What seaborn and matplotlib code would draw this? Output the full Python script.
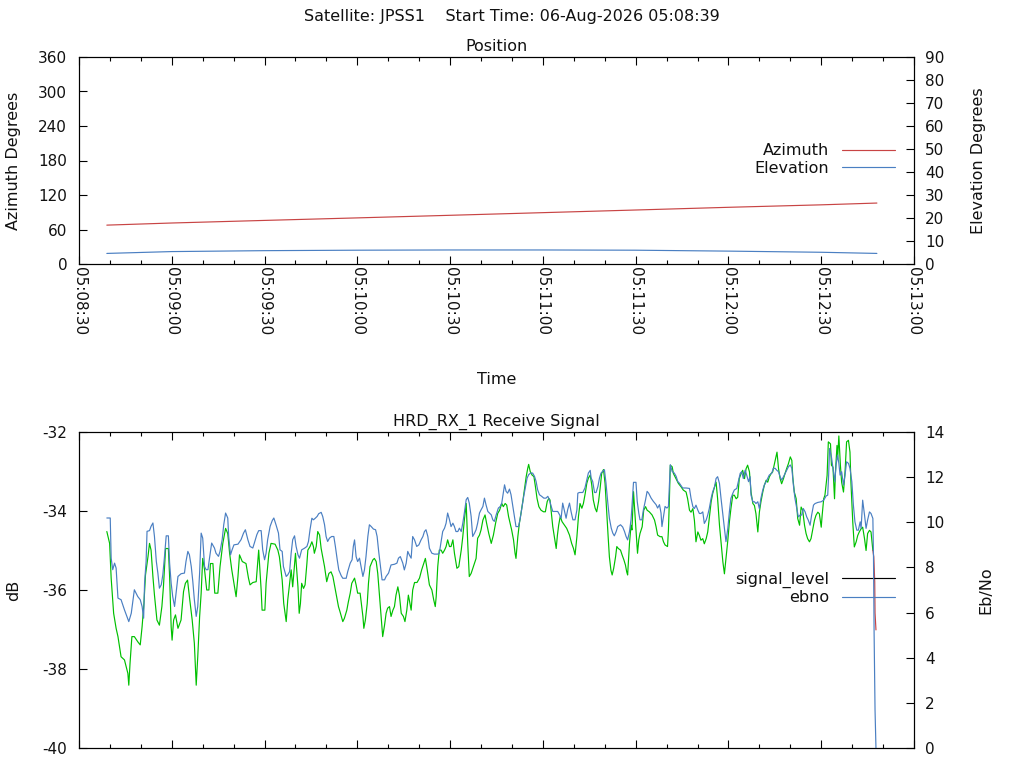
import matplotlib
matplotlib.use("Agg")
import matplotlib.pyplot as plt
import seaborn as sns
from matplotlib.lines import Line2D
from matplotlib.ticker import MultipleLocator, FixedLocator

# ---------------- data ----------------
# time axis: seconds after 05:08:30
xtick_pos = [0, 30, 60, 90, 120, 150, 180, 210, 240, 270]
xtick_labels = ["05:08:30", "05:09:00", "05:09:30", "05:10:00", "05:10:30",
                "05:11:00", "05:11:30", "05:12:00", "05:12:30", "05:13:00"]

pos_t = [9, 30, 60, 90, 120, 150, 180, 210, 240, 258]
azimuth = [67.6, 71.3, 75.8, 80.2, 84.7, 89.3, 93.9, 98.6, 102.9, 106.0]
elevation = [4.6, 5.4, 5.8, 6.0, 6.1, 6.1, 6.0, 5.6, 5.1, 4.6]

sig_t = [9.0, 9.9, 10.4, 11.2, 12.0, 12.6, 13.6, 14.7, 15.8, 16.1, 16.5, 17.1, 17.9, 19.0, 19.8,
         20.4, 21.0, 21.5, 22.3, 22.8, 23.3, 23.9, 24.4, 25.2, 26.0, 26.8, 27.3, 28.0, 28.9, 29.3,
         29.8, 30.1, 30.6, 31.2, 32.0, 33.0, 33.8, 34.4, 35.1, 35.7, 36.6, 37.3, 37.9, 38.4, 39.0,
         39.5, 40.0, 40.6, 41.3, 42.0, 42.5, 43.3, 43.9, 44.9, 45.6, 46.5, 47.4, 48.1, 48.7, 49.4,
         50.3, 50.8, 51.4, 51.9, 52.8, 54.0, 54.8, 55.3, 56.2, 57.3, 58.1, 58.9, 59.2, 60.1, 60.5,
         61.4, 62.1, 63.4, 64.3, 64.8, 65.7, 66.2, 67.0, 67.5, 68.6, 69.1, 70.0, 70.8, 71.2, 71.6,
         72.0, 72.6, 73.1, 73.7, 74.0, 74.7, 75.3, 75.8, 76.1, 76.7, 77.2, 77.8, 78.3, 78.8, 79.4,
         80.1, 80.8, 81.5, 82.1, 82.8, 83.4, 83.9, 84.4, 85.3, 85.8, 86.6, 87.1, 87.7, 88.2, 89.1,
         89.6, 90.1, 90.9, 91.4, 91.8, 92.1, 92.6, 93.2, 93.6, 94.1, 95.0, 95.5, 96.1, 96.6, 97.2,
         97.7, 98.2, 98.8, 99.3, 99.8, 100.4, 100.9, 101.5, 102.0, 102.5, 103.1, 103.6, 104.2, 104.9, 105.4,
         106.0, 106.5, 106.8, 107.4, 107.9, 108.5, 109.3, 110.1, 110.8, 111.5, 112.0, 112.6, 113.3, 114.1, 114.7,
         115.2, 115.5, 116.0, 116.5, 117.1, 117.6, 118.2, 118.7, 119.2, 119.8, 120.3, 120.9, 121.4, 122.2, 122.8,
         123.6, 124.1, 124.6, 125.2, 125.7, 126.2, 126.8, 127.5, 128.4, 128.9, 129.5, 130.0, 130.6, 131.3, 131.8,
         132.5, 133.3, 134.0, 134.7, 135.4, 136.0, 136.7, 137.2, 137.8, 138.3, 138.9, 139.4, 139.9, 140.5, 141.0,
         141.3, 141.9, 142.4, 143.0, 143.5, 144.0, 144.6, 145.1, 145.4, 145.9, 146.5, 147.1, 147.6, 148.1, 148.7,
         149.4, 150.2, 150.8, 151.4, 151.9, 152.3, 152.7, 153.2, 153.7, 154.3, 154.7, 155.1, 155.6, 156.2, 157.0,
         157.7, 158.6, 159.3, 159.9, 160.4, 161.0, 161.5, 162.0, 162.6, 163.1, 163.7, 164.2, 164.7, 165.3, 165.8,
         166.3, 166.9, 167.4, 168.0, 168.5, 169.0, 169.6, 170.1, 170.7, 171.1, 171.5, 172.0, 172.4, 172.9, 173.5,
         173.9, 174.4, 175.1, 175.6, 176.2, 176.7, 177.1, 177.4, 178.0, 178.5, 178.8, 179.3, 179.6, 180.1, 180.6,
         181.0, 181.4, 182.1, 182.6, 183.2, 183.7, 184.4, 185.3, 186.1, 186.6, 187.1, 187.9, 188.5, 189.0, 189.5,
         190.3, 190.6, 190.9, 191.2, 191.8, 192.2, 192.7, 193.3, 193.8, 194.7, 195.4, 196.3, 196.8, 197.4, 197.9,
         198.5, 199.0, 199.5, 200.1, 200.6, 201.1, 201.7, 202.2, 202.8, 203.3, 203.8, 204.4, 204.9, 205.5, 206.0,
         206.5, 207.1, 207.6, 208.2, 208.7, 209.2, 209.8, 210.3, 210.8, 211.4, 211.9, 212.5, 213.0, 213.5, 214.1,
         214.6, 215.2, 215.7, 216.2, 216.8, 217.3, 217.9, 218.4, 218.9, 219.5, 220.0, 220.5, 221.1, 221.6, 222.2,
         222.7, 223.2, 223.8, 224.3, 224.9, 225.4, 225.7, 226.2, 226.7, 227.2, 227.8, 228.3, 228.8, 229.4, 230.0,
         230.5, 230.8, 231.3, 231.9, 232.4, 233.0, 233.5, 234.0, 234.6, 235.1, 235.6, 236.2, 236.7, 237.3, 237.8,
         238.3, 238.9, 239.4, 240.0, 240.3, 240.8, 241.2, 241.9, 242.3, 243.0, 243.3, 243.8, 244.3, 244.6, 245.1,
         245.3, 245.7, 246.2, 246.6, 247.2, 247.7, 248.2, 248.8, 249.3, 249.6, 250.2, 250.7, 251.3, 251.8, 252.3,
         252.9, 253.4, 254.0, 254.5, 255.0, 255.6, 256.1, 256.7]
sig_db = [-34.52, -34.82, -35.70, -36.59, -36.97, -37.18, -37.69, -37.77, -38.11, -38.41, -37.86, -37.18, -37.18, -37.31, -37.39,
          -36.93, -36.34, -35.62, -35.16, -34.82, -34.99, -35.66, -36.13, -36.76, -36.89, -36.42, -35.92, -34.95, -34.95, -35.66,
          -36.93, -37.27, -36.76, -36.63, -36.97, -36.76, -36.04, -35.83, -35.75, -36.17, -36.76, -37.35, -38.41, -37.69, -36.68,
          -36.08, -35.20, -35.49, -36.00, -36.00, -35.33, -35.33, -36.08, -36.08, -35.41, -34.82, -34.44, -34.57, -35.07, -35.49,
          -35.92, -36.17, -35.66, -35.11, -35.28, -35.33, -35.70, -35.87, -35.81, -35.79, -34.99, -36.00, -36.51, -36.51, -35.83,
          -35.07, -34.82, -34.84, -34.99, -35.16, -35.75, -36.34, -36.80, -36.25, -35.49, -35.92, -35.07, -35.92, -36.59, -36.34,
          -35.83, -35.96, -35.87, -35.32, -34.99, -34.90, -34.78, -34.90, -35.07, -34.90, -34.52, -34.61, -34.95, -35.16, -35.41,
          -35.79, -35.58, -35.54, -35.66, -35.96, -36.21, -36.42, -36.55, -36.80, -36.72, -36.51, -36.30, -36.08, -35.83, -35.70,
          -35.87, -36.08, -36.08, -36.42, -36.67, -36.97, -36.76, -36.34, -35.83, -35.41, -35.24, -35.20, -35.28, -35.58, -36.17,
          -36.67, -37.18, -36.89, -36.59, -36.46, -36.42, -36.67, -36.51, -36.42, -36.13, -35.92, -36.13, -36.59, -36.67, -36.80,
          -36.51, -36.13, -36.25, -36.51, -36.00, -35.81, -35.81, -35.70, -35.49, -35.32, -35.20, -35.49, -35.87, -36.00, -36.25,
          -36.42, -36.17, -35.41, -34.99, -34.99, -35.07, -34.99, -34.90, -34.73, -34.90, -34.90, -34.73, -35.07, -35.45, -35.41,
          -34.99, -34.65, -34.23, -33.81, -34.82, -35.66, -35.58, -35.41, -35.20, -34.69, -34.61, -34.48, -34.23, -34.10, -34.31,
          -34.57, -34.82, -34.61, -34.31, -34.06, -33.98, -33.81, -33.89, -33.81, -33.85, -34.14, -34.31, -34.48, -34.73, -35.07,
          -35.20, -34.65, -34.31, -34.02, -33.76, -33.47, -33.13, -32.92, -32.82, -33.00, -33.09, -33.13, -33.39, -33.68, -33.89,
          -33.98, -34.02, -34.02, -33.76, -33.68, -33.72, -34.02, -34.40, -34.65, -34.95, -34.61, -34.36, -34.14, -34.27, -34.36,
          -34.44, -34.61, -34.82, -34.95, -35.11, -34.65, -34.14, -33.81, -33.93, -33.81, -33.55, -33.30, -33.17, -33.09, -33.34,
          -33.72, -33.93, -34.02, -33.76, -33.43, -33.05, -32.95, -33.30, -34.14, -34.65, -35.16, -35.50, -35.62, -35.45, -35.16,
          -34.90, -34.95, -34.99, -35.11, -35.24, -35.37, -35.54, -35.62, -34.82, -34.36, -34.48, -33.51, -33.89, -34.48, -35.07,
          -34.73, -34.57, -34.40, -33.98, -33.89, -33.98, -34.02, -34.10, -34.23, -34.40, -34.61, -34.65, -34.65, -34.78, -34.86,
          -34.90, -34.48, -33.72, -32.84, -32.88, -33.05, -33.13, -33.22, -33.30, -33.39, -33.47, -33.52, -33.69, -33.98, -34.03,
          -33.94, -34.24, -34.78, -34.53, -34.62, -34.74, -34.70, -34.83, -34.70, -34.53, -34.19, -33.77, -33.56, -33.39, -33.27,
          -33.69, -34.36, -34.78, -35.29, -35.59, -35.21, -34.74, -34.28, -33.94, -33.60, -33.60, -33.69, -33.65, -33.18, -33.05,
          -32.97, -33.18, -32.93, -32.84, -33.01, -33.52, -33.81, -33.86, -34.07, -34.53, -34.03, -33.77, -33.52, -33.35, -33.22,
          -33.27, -33.14, -33.05, -33.01, -32.80, -32.63, -32.51, -32.93, -33.18, -33.31, -33.18, -33.05, -32.93, -32.80, -32.63,
          -32.72, -33.14, -33.52, -33.69, -34.19, -34.36, -33.90, -33.98, -34.36, -34.57, -34.70, -34.78, -34.70, -34.45, -34.24,
          -34.11, -34.03, -34.07, -34.41, -34.11, -33.69, -33.60, -33.10, -32.25, -32.30, -32.84, -32.89, -33.69, -33.01, -32.34,
          -32.68, -32.10, -32.84, -33.27, -33.52, -33.01, -32.25, -32.21, -32.51, -33.27, -34.28, -34.91, -34.78, -34.62, -34.53,
          -34.45, -34.41, -34.70, -35.00, -34.57, -34.49, -34.53, -35.00]
# last samples of signal_level (drawn in red in the original)
sig_tail_t = [256.7, 257.0, 257.3, 257.4, 257.7]
sig_tail_db = [-35.00, -35.16, -35.79, -36.58, -37.01]

ebno_t = [9.0, 10.1, 10.4, 10.9, 11.5, 12.0, 12.6, 13.6, 14.7, 15.5, 16.1, 16.9, 17.9, 19.0, 19.8,
          20.4, 20.9, 21.2, 21.7, 22.0, 22.8, 23.3, 23.9, 24.4, 25.0, 25.5, 26.0, 26.6, 27.1, 27.6,
          28.2, 28.9, 29.3, 29.8, 30.3, 30.9, 31.4, 32.0, 33.0, 34.1, 34.6, 35.2, 35.7, 36.3, 36.8,
          37.3, 37.9, 38.4, 39.0, 39.5, 40.0, 40.6, 41.1, 41.7, 42.2, 42.9, 43.8, 44.3, 45.1, 45.6,
          46.3, 46.8, 47.4, 48.1, 48.4, 49.0, 49.5, 50.1, 51.4, 52.4, 53.2, 53.8, 54.6, 55.3, 56.2,
          56.7, 57.5, 58.1, 58.9, 59.4, 60.0, 60.5, 61.0, 61.8, 62.5, 63.0, 63.7, 64.5, 65.0, 65.7,
          66.1, 67.0, 67.5, 68.1, 68.6, 69.1, 69.7, 70.2, 70.8, 71.3, 72.0, 72.9, 73.7, 74.2, 74.7,
          75.3, 75.8, 76.4, 77.0, 77.5, 78.3, 78.8, 79.4, 79.9, 80.4, 81.0, 81.7, 82.4, 82.9, 83.5,
          84.0, 84.8, 85.3, 86.4, 86.9, 87.7, 88.3, 88.7, 89.1, 89.6, 90.1, 90.7, 91.2, 91.8, 92.3,
          92.8, 93.4, 93.9, 94.5, 95.2, 95.9, 96.4, 96.9, 97.5, 98.0, 98.8, 99.3, 100.1, 100.9, 102.0,
          102.8, 103.3, 103.9, 104.7, 105.2, 105.8, 106.3, 106.8, 107.4, 107.9, 108.5, 109.2, 109.9, 110.6, 111.2,
          111.7, 112.2, 112.8, 113.3, 114.1, 114.9, 116.0, 116.5, 117.1, 117.6, 118.2, 118.7, 119.2, 119.8, 120.3,
          120.9, 121.4, 121.9, 122.5, 123.0, 123.6, 124.1, 124.6, 125.2, 125.7, 126.2, 126.8, 127.3, 127.9, 128.4,
          128.9, 129.5, 130.0, 130.6, 131.1, 131.6, 132.2, 132.7, 133.3, 133.8, 134.3, 134.9, 135.6, 136.2, 136.7,
          137.2, 137.6, 138.1, 138.6, 139.2, 139.7, 140.3, 140.8, 141.3, 142.1, 142.6, 143.3, 143.8, 144.4, 144.9,
          145.4, 146.0, 146.7, 147.3, 147.8, 148.3, 148.9, 149.6, 150.3, 151.0, 151.6, 152.1, 152.7, 153.2, 154.1,
          154.8, 155.4, 155.9, 156.4, 157.0, 157.5, 158.0, 158.6, 159.1, 159.7, 160.4, 161.0, 161.3, 161.8, 162.9,
          163.6, 164.2, 164.7, 165.3, 165.6, 166.1, 166.7, 167.2, 167.8, 168.3, 168.8, 169.4, 169.9, 170.4, 171.0,
          171.5, 172.1, 172.6, 173.1, 173.7, 174.2, 175.1, 175.8, 176.4, 176.9, 177.4, 178.0, 178.5, 178.8, 179.3,
          180.1, 180.5, 181.0, 181.4, 182.0, 182.5, 183.2, 183.7, 184.2, 185.0, 185.7, 186.6, 187.1, 187.7, 188.2,
          188.5, 189.0, 189.5, 190.1, 190.6, 190.9, 191.2, 191.8, 192.5, 193.1, 193.6, 194.1, 195.2, 196.3, 197.4,
          197.9, 198.5, 199.0, 199.5, 200.1, 200.6, 201.1, 201.7, 202.2, 202.8, 203.3, 203.8, 204.4, 204.9, 205.5,
          206.0, 206.5, 207.1, 207.6, 208.2, 208.7, 209.2, 209.8, 210.3, 210.8, 211.4, 211.9, 212.7, 213.2, 213.8,
          214.3, 214.8, 215.4, 215.9, 216.5, 217.0, 217.3, 217.9, 218.4, 218.9, 219.5, 220.0, 220.5, 221.1, 221.6,
          222.2, 222.7, 223.2, 224.0, 224.5, 225.1, 225.6, 226.2, 226.7, 227.2, 227.8, 228.6, 229.4, 230.0, 230.5,
          231.0, 231.5, 232.1, 232.6, 233.2, 233.7, 234.2, 234.8, 235.3, 235.8, 236.4, 236.9, 237.5, 238.0, 238.9,
          240.0, 240.8, 241.6, 242.1, 242.4, 242.7, 243.3, 243.8, 244.4, 244.8, 245.3, 245.7, 246.1, 246.6, 247.2,
          247.7, 248.2, 248.8, 249.3, 249.9, 250.4, 250.9, 251.5, 252.0, 252.6, 252.9, 253.4, 254.0, 254.5, 255.0,
          255.6, 256.1, 256.7, 256.9, 257.1, 257.4, 257.7]
ebno = [10.19, 10.19, 8.41, 7.90, 8.19, 7.97, 6.64, 6.57, 6.12, 5.83, 5.60, 5.97, 7.01, 6.71, 6.57,
        6.27, 5.75, 7.30, 8.27, 9.60, 9.63, 9.82, 9.97, 9.37, 8.27, 7.75, 7.08, 7.23, 7.67, 8.41,
        9.40, 9.40, 8.19, 7.30, 6.71, 6.27, 6.86, 7.60, 7.72, 7.75, 8.27, 8.71, 8.56, 8.04, 7.38,
        6.57, 5.83, 6.27, 7.75, 9.52, 9.30, 8.04, 7.90, 7.90, 8.41, 9.08, 8.86, 8.63, 8.49, 8.71,
        9.23, 9.89, 10.41, 10.19, 9.37, 8.56, 8.78, 9.00, 9.03, 9.23, 9.52, 9.67, 9.23, 8.93, 8.86,
        9.08, 9.45, 9.63, 9.63, 8.78, 8.34, 8.63, 9.23, 9.82, 10.08, 10.19, 9.89, 9.52, 8.78, 8.71,
        8.04, 7.60, 7.67, 7.82, 8.63, 9.23, 9.40, 8.93, 8.56, 8.41, 8.78, 8.85, 8.93, 9.15, 9.67,
        10.18, 10.11, 10.18, 10.26, 10.38, 10.44, 10.26, 9.89, 9.37, 9.15, 9.30, 9.37, 9.37, 8.93, 8.34,
        7.89, 7.63, 7.52, 7.52, 7.82, 8.19, 8.34, 8.93, 9.22, 8.48, 8.26, 8.41, 8.04, 7.60, 7.89,
        8.48, 9.37, 9.89, 9.81, 9.70, 9.67, 9.37, 8.71, 8.04, 7.45, 7.45, 7.60, 7.75, 8.11, 8.14,
        8.19, 8.41, 8.48, 8.19, 7.89, 8.19, 8.71, 8.56, 8.41, 9.37, 9.22, 8.93, 9.00, 9.22, 9.37,
        9.59, 9.67, 9.37, 8.85, 8.63, 8.59, 8.59, 8.63, 9.15, 9.59, 9.74, 9.96, 10.41, 10.11, 9.81,
        9.96, 9.81, 9.59, 9.59, 9.74, 9.59, 9.96, 10.41, 11.00, 11.10, 10.85, 10.26, 9.37, 9.52, 9.67,
        9.96, 10.41, 10.55, 10.70, 11.07, 10.78, 10.48, 10.41, 10.33, 10.11, 10.04, 10.33, 10.63, 10.70, 10.85,
        11.29, 11.66, 11.37, 11.29, 11.47, 11.22, 10.70, 10.26, 9.81, 9.81, 10.11, 10.70, 11.15, 11.59, 11.96,
        12.11, 12.18, 12.18, 12.03, 11.81, 11.44, 11.22, 11.15, 11.07, 11.07, 11.15, 11.00, 10.70, 10.48, 10.48,
        10.48, 10.33, 10.18, 10.85, 10.48, 10.18, 10.55, 10.85, 10.48, 10.11, 10.11, 10.55, 11.29, 11.32, 11.32,
        11.52, 11.88, 12.18, 12.30, 11.96, 11.81, 11.32, 11.32, 11.59, 11.96, 12.18, 12.26, 12.33, 11.74, 10.85,
        10.18, 9.74, 9.52, 9.40, 9.59, 9.81, 9.89, 9.79, 9.59, 9.37, 9.22, 9.59, 10.11, 10.70, 11.77,
        11.77, 10.93, 10.41, 10.11, 10.11, 10.55, 11.00, 11.37, 11.29, 11.07, 10.93, 10.78, 10.63, 10.78, 10.41,
        9.81, 10.26, 10.70, 10.63, 10.70, 11.59, 12.55, 12.25, 12.18, 12.03, 11.81, 11.74, 11.52, 11.52, 11.50,
        11.06, 10.69, 10.61, 10.76, 10.54, 10.39, 10.39, 10.46, 9.95, 10.10, 10.32, 10.61, 11.06, 11.35, 11.57,
        11.94, 12.02, 11.72, 11.06, 10.32, 9.73, 9.14, 9.73, 10.46, 11.06, 11.28, 11.43, 11.50, 11.80, 12.17,
        12.24, 11.94, 12.31, 12.09, 11.80, 12.02, 11.20, 10.91, 10.91, 10.83, 10.91, 10.61, 11.06, 11.43, 11.65,
        11.80, 11.94, 12.09, 12.17, 12.39, 12.39, 12.31, 12.24, 12.02, 11.87, 12.02, 12.24, 12.46, 12.54, 12.39,
        11.65, 11.06, 10.61, 10.24, 10.32, 10.32, 10.61, 10.46, 10.24, 10.10, 9.87, 10.32, 10.76, 10.83, 10.88,
        10.91, 10.98, 11.17, 11.20, 12.09, 13.27, 12.90, 12.39, 11.80, 12.54, 12.98, 12.61, 12.09, 12.24, 11.65,
        12.09, 12.68, 12.61, 12.39, 11.80, 10.76, 10.02, 9.65, 9.65, 10.02, 9.73, 10.98, 10.32, 9.73, 10.10,
        10.46, 10.39, 10.17, 8.48, 5.09, 1.69, 0.00]

# ---------------- style ----------------
RED = "#c84444"
BLUE = "#4a7fc2"
GREEN = "#00c000"

sns.set_theme(style="ticks")
plt.rcParams['font.family'] = ['DejaVu Sans']
plt.rcParams['font.size'] = 11
plt.rcParams['axes.unicode_minus'] = False
plt.rcParams['axes.linewidth'] = 0.8
plt.rcParams['axes.edgecolor'] = 'black'
plt.rcParams['text.color'] = '#111111'
plt.rcParams['axes.labelcolor'] = '#111111'
plt.rcParams['xtick.color'] = 'black'
plt.rcParams['ytick.color'] = 'black'
plt.rcParams['xtick.labelcolor'] = '#111111'
plt.rcParams['ytick.labelcolor'] = '#111111'

FS = 11      # tick numbers
FT = 11.5    # titles, labels, legend
W, H = 1024, 768
fig = plt.figure(figsize=(W / 100, H / 100), dpi=100)
fig.patch.set_facecolor('white')

L, R = 79, 914
ax1 = fig.add_axes([L / W, 1 - 264 / H, (R - L) / W, (264 - 57) / H])
ax1b = ax1.twinx()
ax2 = fig.add_axes([L / W, 1 - 748 / H, (R - L) / W, (748 - 432) / H])
ax2b = ax2.twinx()

LW = 0.85
# ---- Position panel
sns.lineplot(x=pos_t, y=azimuth, ax=ax1, color=RED, linewidth=LW, estimator=None, sort=False, legend=False)
sns.lineplot(x=pos_t, y=elevation, ax=ax1b, color=BLUE, linewidth=LW, estimator=None, sort=False, legend=False)

# ---- Signal panel
sns.lineplot(x=sig_t, y=sig_db, ax=ax2, color=GREEN, linewidth=LW, estimator=None, sort=False, legend=False)
sns.lineplot(x=sig_tail_t, y=sig_tail_db, ax=ax2, color=RED, linewidth=LW, estimator=None, sort=False, legend=False)
sns.lineplot(x=ebno_t, y=ebno, ax=ax2b, color=BLUE, linewidth=LW, estimator=None, sort=False, legend=False)

for a in (ax1, ax2):
    a.set_xlim(0, 270)
    a.xaxis.set_major_locator(FixedLocator(xtick_pos))
    a.xaxis.set_minor_locator(MultipleLocator(10))
    a.tick_params(axis='x', which='both', direction='in', top=True, bottom=True, width=0.8)
    a.tick_params(axis='x', which='major', length=5.5)
    a.tick_params(axis='x', which='minor', length=2.8)
    a.tick_params(axis='y', which='both', direction='in', left=True, right=False, length=5.5, width=0.8, pad=8.5)
    for s in a.spines.values():
        s.set_visible(True)
        s.set_color('black')
        s.set_linewidth(0.8)

for a in (ax1b, ax2b):
    a.tick_params(axis='y', which='both', direction='in', right=True, left=False, length=5.5, width=0.8, pad=8.0)
    for s in a.spines.values():
        s.set_visible(True)
        s.set_color('black')
        s.set_linewidth(0.8)

ax1.set_xticks(xtick_pos, xtick_labels)
plt.setp(ax1.get_xticklabels(), rotation=-90, ha='center', va='top', fontsize=FS)
ax1.tick_params(axis='x', which='major', pad=2)
ax2.tick_params(axis='x', which='both', labelbottom=False)

ax1.set_ylim(0, 360)
ax1.set_yticks([0, 60, 120, 180, 240, 300, 360])
ax1b.set_ylim(0, 90)
ax1b.set_yticks(list(range(0, 91, 10)))
ax2.set_ylim(-40, -32)
ax2.set_yticks([-40, -38, -36, -34, -32])
ax2b.set_ylim(0, 14)
ax2b.set_yticks(list(range(0, 15, 2)))
for a in (ax1, ax1b, ax2, ax2b):
    a.tick_params(axis='y', labelsize=FS)

ax1.set_title("Position", fontsize=FT, pad=4.5)
ax2.set_title("HRD_RX_1 Receive Signal", fontsize=FT, pad=4.5)
fig.text(0.5, 1 - 17 / H, "Satellite: JPSS1    Start Time: 06-Aug-2026 05:08:39",
         ha='center', va='center', fontsize=FT)

ax1.set_xlabel("Time", fontsize=FT)
ax1.xaxis.set_label_coords(0.5, (264 - 372) / 207)
ax1.set_ylabel("Azimuth Degrees", fontsize=FT)
ax1.yaxis.set_label_coords((21 - L) / (R - L), 0.5)
ax1b.set_ylabel("Elevation Degrees", fontsize=FT)
ax1b.yaxis.set_label_coords((971 - L) / (R - L), 0.5)
ax2.set_ylabel("dB", fontsize=FT)
ax2.yaxis.set_label_coords((21 - L) / (R - L), 0.5)
ax2b.set_ylabel("Eb/No", fontsize=FT)
ax2b.yaxis.set_label_coords((978 - L) / (R - L), 0.5)

leg_kw = dict(loc='center right', frameon=False, markerfirst=False, fontsize=FT,
              handlelength=3.3, handletextpad=0.8, labelspacing=0.15,
              borderpad=0.0, borderaxespad=0.0)
h1 = [Line2D([], [], color=RED, lw=LW), Line2D([], [], color=BLUE, lw=LW)]
leg1 = ax1b.legend(h1, ["Azimuth", "Elevation"], bbox_to_anchor=(0.977, 0.505), **leg_kw)
h2 = [Line2D([], [], color='black', lw=LW), Line2D([], [], color=BLUE, lw=LW)]
leg2 = ax2.legend(h2, ["signal_level", "ebno"], bbox_to_anchor=(0.977, 0.505), **leg_kw)
for lg in (leg1, leg2):
    for t in lg.get_texts():
        t.set_ha('right')

fig.savefig("out.png", dpi=100, facecolor='white')
